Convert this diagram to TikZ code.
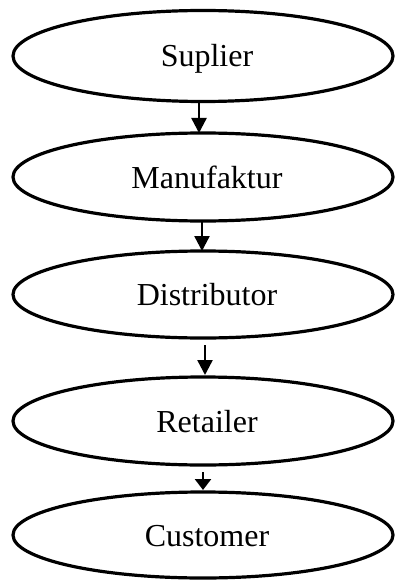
\documentclass[tikz,border=0pt]{standalone}
\usepackage{fontspec}
\setmainfont{Liberation Serif}
\usetikzlibrary{shapes.geometric,arrows.meta}
\begin{document}
\begin{tikzpicture}[x=1pt,y=-1pt,
  stage/.style={ellipse,draw=black,line width=3.2pt,minimum width=380pt,inner sep=0pt,outer sep=0pt},
  lbl/.style={font=\fontsize{32}{38}\selectfont,anchor=base,inner sep=0pt},
  arr/.style={line width=2.4pt,-{Triangle[width=15pt,length=15pt]}},
  shortarr/.style={line width=2.6pt,-{Triangle[width=16pt,length=11pt]}}]
\useasboundingbox (0,0) rectangle (395,580);
\node[stage,minimum height=91pt] (e1) at (203,56) {};
\node[stage,minimum height=88pt] (e2) at (203,177) {};
\node[stage,minimum height=87pt] (e3) at (203,294.5) {};
\node[stage,minimum height=88pt] (e4) at (203,421) {};
\node[stage,minimum height=86pt] (e5) at (203,535) {};
\node[lbl] (t1) at (207,67) {Suplier};
\node[lbl] (t2) at (207,188) {Manufaktur};
\node[lbl] (t3) at (207,305) {Distributor};
\node[lbl] (t4) at (207,432) {Retailer};
\node[lbl] (t5) at (207,546) {Customer};
\draw[arr] ([xshift=-4pt]e1.south) -- ([xshift=-4pt]e2.north);
\draw[arr] ([xshift=-1pt]e2.south) -- ([xshift=-1pt]e3.north);
\draw[arr] ([xshift=2pt,yshift=-7pt]e3.south) -- ([xshift=2pt,yshift=2pt]e4.north);
\draw[shortarr] ([xshift=0pt,yshift=-7pt]e4.south) -- ([xshift=0pt,yshift=2pt]e5.north);
\end{tikzpicture}
\end{document}
